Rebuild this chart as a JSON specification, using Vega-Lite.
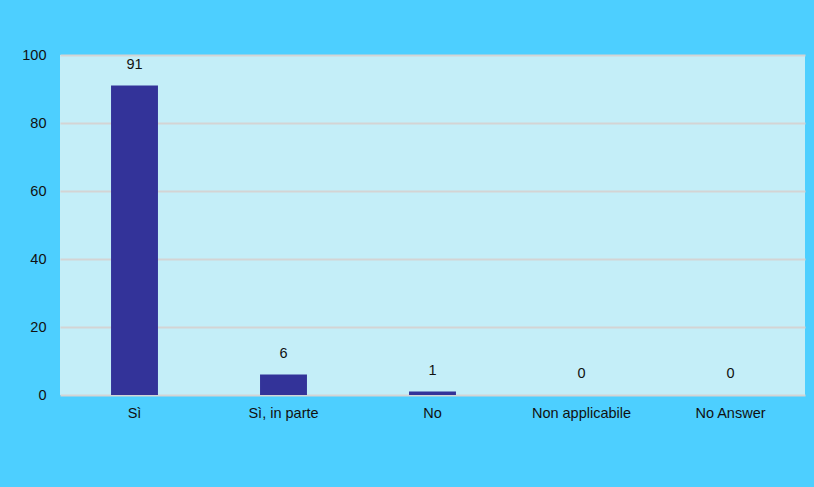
{
  "$schema": "https://vega.github.io/schema/vega-lite/v6.json",
  "width": 745,
  "height": 340,
  "autosize": {"type": "none"},
  "padding": {"left": 60, "top": 55, "right": 9, "bottom": 92},
  "background": "#4dcfff",
  "config": {
    "view": {"fill": "#c4eef8", "stroke": null},
    "font": "Liberation Sans"
  },
  "data": {
    "values": [
      {"risposta": "Sì", "valore": 91},
      {"risposta": "Sì, in parte", "valore": 6},
      {"risposta": "No", "valore": 1},
      {"risposta": "Non applicabile", "valore": 0},
      {"risposta": "No Answer", "valore": 0}
    ]
  },
  "encoding": {
    "x": {
      "field": "risposta",
      "type": "nominal",
      "sort": null,
      "scale": {"paddingInner": 0, "paddingOuter": 0},
      "axis": {
        "title": null,
        "labelAngle": 0,
        "labelFontSize": 14.5,
        "labelColor": "#111111",
        "labelBaseline": "middle",
        "labelPadding": 18,
        "ticks": false,
        "domain": false,
        "grid": false
      }
    },
    "y": {
      "field": "valore",
      "type": "quantitative",
      "scale": {"domain": [0, 100], "nice": false},
      "axis": {
        "title": null,
        "values": [0, 20, 40, 60, 80, 100],
        "labelFontSize": 14.5,
        "labelColor": "#111111",
        "labelPadding": 14,
        "ticks": false,
        "domain": false,
        "grid": true,
        "gridColor": "#d4d4d4",
        "gridWidth": 2,
        "gridOpacity": 1
      }
    }
  },
  "layer": [
    {
      "mark": {"type": "bar", "color": "#333399", "width": {"band": 0.315}}
    },
    {
      "mark": {"type": "text", "baseline": "middle", "dy": -21, "fontSize": 14.5, "color": "#111111"},
      "encoding": {"text": {"field": "valore", "type": "quantitative"}}
    }
  ]
}
